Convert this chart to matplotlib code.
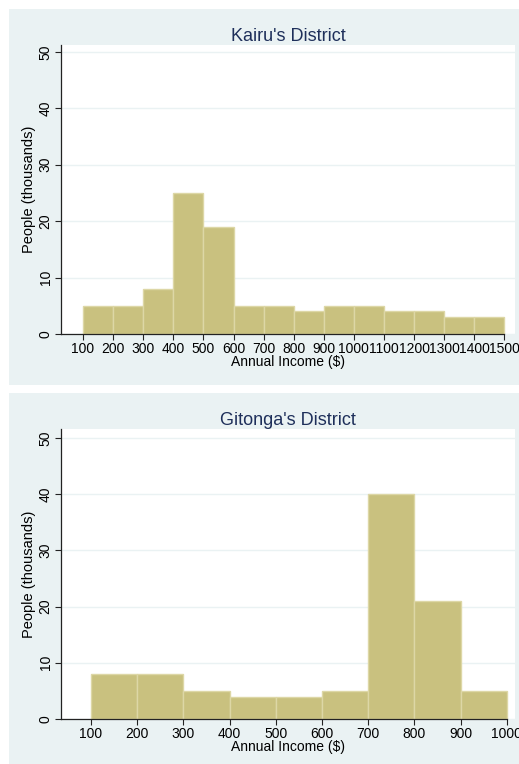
import matplotlib
matplotlib.use("Agg")
import matplotlib.pyplot as plt
from matplotlib.patches import Rectangle

plt.rcParams["font.family"] = ["Liberation Sans", "DejaVu Sans"]

# Kairu's District: bins of 100 from 100 to 1500
kairu_edges = [100, 200, 300, 400, 500, 600, 700, 800, 900, 1000,
               1100, 1200, 1300, 1400, 1500]
kairu_people = [5, 5, 8, 25, 19, 5, 5, 4, 5, 5, 4, 4, 3, 3]

# Gitonga's District: bins of 100 from 100 to 1000
gitonga_edges = [100, 200, 300, 400, 500, 600, 700, 800, 900, 1000]
gitonga_people = [8, 8, 5, 4, 4, 5, 40, 21, 5]

titles = ["Kairu's District", "Gitonga's District"]
y_ticks = [0, 10, 20, 30, 40, 50]

W, H = 519, 764
BG = "#EAF2F3"
BAR = "#C9C17F"
EDGE = "#DDD7A6"
TITLE_C = "#1E2F5A"

fig = plt.figure(figsize=(W / 100, H / 100), dpi=100, facecolor="white")

# panel backgrounds (pixels: x0, y0_top, x1, y1_bottom)
for x0, y0, x1, y1 in [(9, 9, 519, 385), (9, 393, 519, 764)]:
    fig.patches.append(Rectangle((x0 / W, 1 - y1 / H), (x1 - x0) / W, (y1 - y0) / H,
                                 transform=fig.transFigure, facecolor=BG,
                                 edgecolor="none", zorder=-10))

panels = [
    dict(edges=kairu_edges, vals=kairu_people, top=45, bot=334, xlim=(27, 1535), ylim=(0, 51.2)),
    dict(edges=gitonga_edges, vals=gitonga_people, top=429, bot=719, xlim=(35, 1018), ylim=(0, 51.6)),
]

for p, title in zip(panels, titles):
    left, right = 61, 515
    ax = fig.add_axes([left / W, 1 - p["bot"] / H, (right - left) / W, (p["bot"] - p["top"]) / H])
    ax.set_zorder(5)
    ax.set_facecolor("white")
    edges, vals = p["edges"], p["vals"]
    widths = [edges[i + 1] - edges[i] for i in range(len(vals))]
    ax.bar(edges[:-1], vals, width=widths, align="edge", color=BAR,
           edgecolor=EDGE, linewidth=1.0, zorder=2)
    ax.set_xlim(*p["xlim"])
    ax.set_ylim(*p["ylim"])
    ax.set_yticks(y_ticks)
    ax.set_yticklabels([str(v) for v in y_ticks], rotation=90, va="center")
    ax.set_xticks(edges)
    ax.set_xticklabels([str(v) for v in edges])
    ax.yaxis.grid(True, color=BG, linewidth=1.0, zorder=0)
    ax.set_axisbelow(True)
    for s in ["top", "right"]:
        ax.spines[s].set_visible(False)
    ax.spines["bottom"].set_bounds(p["xlim"][0], edges[-1])
    for s in ["left", "bottom"]:
        ax.spines[s].set_color("#222222")
        ax.spines[s].set_linewidth(0.9)
    ax.tick_params(axis="both", direction="out", length=4, width=0.8,
                   color="#222222", labelsize=10, pad=2)
    ax.set_xlabel("Annual Income ($)", fontsize=10, labelpad=-1)
    ax.set_ylabel("People (thousands)", fontsize=10.5, labelpad=2)
    ax.set_title(title, fontsize=13, color=TITLE_C, pad=3)

fig.savefig("out.png", dpi=100, facecolor="white")
